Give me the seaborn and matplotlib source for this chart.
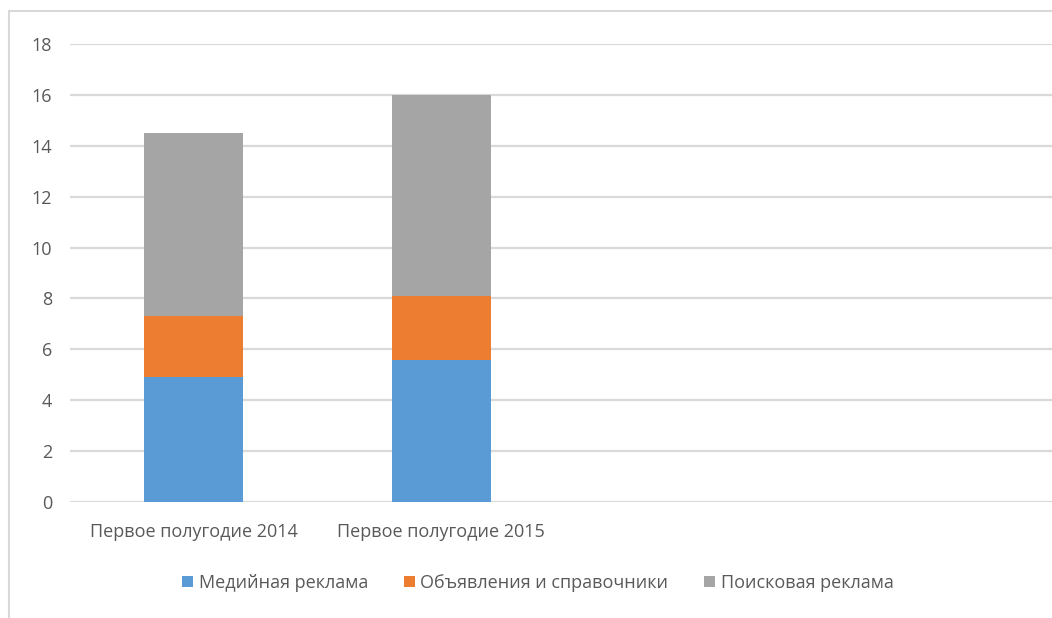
import matplotlib
matplotlib.use("Agg")
import matplotlib.pyplot as plt
from matplotlib.lines import Line2D
from matplotlib.patches import Patch
import seaborn as sns
import pandas as pd
import numpy as np

categories = ["Первое полугодие 2014", "Первое полугодие 2015"]
series_names = ["Медийная реклама", "Объявления и справочники", "Поисковая реклама"]
media = [4.9, 5.6]
listings = [2.4, 2.5]
search = [7.2, 7.9]
colors = ["#5B9BD5", "#ED7D31", "#A5A5A5"]
yticks = [0, 2, 4, 6, 8, 10, 12, 14, 16, 18]
n_slots = 4  # the category axis reserves room for four periods

sns.set_theme(style="white")
plt.rcParams["font.family"] = ["Open Sans", "DejaVu Sans"]

W, H = 1052, 618
fig = plt.figure(figsize=(W / 100, H / 100), dpi=100)
ax = fig.add_axes([70 / W, 116 / H, (1052 - 70) / W, 458 / H])

df = pd.DataFrame({"category": categories, series_names[0]: media,
                   series_names[1]: listings, series_names[2]: search})
bottoms = np.zeros(len(categories))
for name, col in zip(series_names, colors):
    vals = df[name].to_numpy()
    sns.barplot(x=df["category"], y=vals, bottom=bottoms, color=col,
                width=0.4, ax=ax, saturation=1, linewidth=0, zorder=3,
                order=categories)
    bottoms = bottoms + vals

ax.set_xlim(-0.5, -0.5 + n_slots * (1052 - 70) / 990)
ax.set_ylim(0, 18)
ax.set_yticks(yticks)
ax.yaxis.grid(True, color="#D9D9D9", linewidth=1.6, zorder=0)
ax.xaxis.grid(False)
for s in ax.spines.values():
    s.set_visible(False)
ax.tick_params(axis="both", length=0, colors="#595959", labelsize=13)
ax.tick_params(axis="y", pad=13)
ax.tick_params(axis="x", pad=15)
ax.set_xlabel("")
ax.set_ylabel("")

handles = [Patch(facecolor=c, edgecolor="none") for c in colors]
fig.legend(handles, series_names, loc="center", bbox_to_anchor=(538 / W, 1 - 583 / H),
           ncol=3, frameon=False, fontsize=13, handlelength=0.6, handleheight=0.6,
           handletextpad=0.3, columnspacing=2.0, labelcolor="#595959")

# chart frame
fig.add_artist(Line2D([9 / W, 9 / W], [0, 1 - 11 / H], transform=fig.transFigure,
                      color="#D9D9D9", linewidth=1.5))
fig.add_artist(Line2D([9 / W, 1], [1 - 11 / H, 1 - 11 / H], transform=fig.transFigure,
                      color="#D9D9D9", linewidth=1.5))

fig.savefig("out.png", dpi=100)
